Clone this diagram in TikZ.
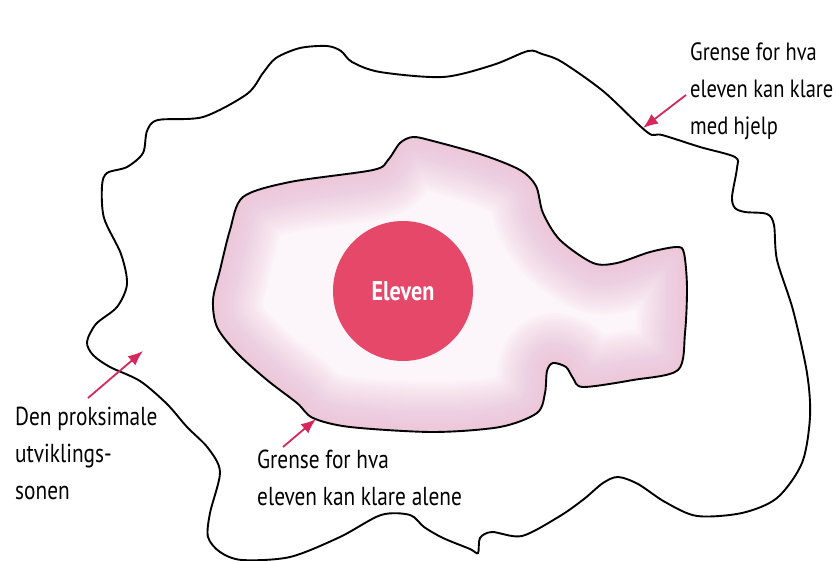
\documentclass[tikz,border=0pt]{standalone}
\usepackage{fontspec}
\setmainfont{PT Sans}[FakeStretch=0.82]
\usetikzlibrary{arrows.meta}
\definecolor{arrowpink}{RGB}{214,40,92}
\definecolor{dotred}{RGB}{230,72,106}
\definecolor{blobedge}{RGB}{236,186,212}
\definecolor{blobmid}{RGB}{252,245,249}
\def\outerpath{plot[smooth cycle, tension=0.5] coordinates {
(102,186) (107,173) (127,167) (143,153) (147,131) (158,120) (203,117) (247,94) (263,73) (276,58) (300,48) (327,46) (341,51) (352,62) (380,72) (443,77) (493,65) (528,51) (542,54) (562,62) (603,91) (640,126) (652,135) (662,135) (700,147) (735,157) (737,168) (732,197) (735,208) (745,212) (767,214) (774,225) (777,260) (793,310) (807,373) (810,417) (802,463) (777,498) (742,513) (697,516) (665,502) (638,484) (618,477) (603,483) (584,499) (560,516) (522,536) (492,532) (480,538) (478,553) (470,549) (443,538) (424,527) (410,515) (381,515) (340,537) (290,557) (242,560) (220,552) (208,537) (210,513) (220,472) (208,448) (187,427) (167,404) (140,381) (110,367) (93,355) (87,342) (96,324) (117,307) (127,284) (121,254) (104,218)}}
\def\innerpath{plot[smooth cycle, tension=0.5] coordinates {
(243,197) (290,182) (373,170) (388,160) (400,143) (413,137) (433,141) (483,155) (520,170) (536,186) (543,213) (560,240) (593,263) (617,263) (650,252) (677,247) (684,253) (687,287) (685,333) (678,370) (633,380) (583,387) (573,378) (566,367) (553,363) (547,371) (545,393) (537,413) (500,427) (433,432) (350,427) (313,418) (297,403) (267,380) (237,353) (217,327) (213,300) (220,270) (230,230)}}
\begin{document}
\begin{tikzpicture}[x=1pt,y=-1pt,
  boundary/.style={draw=black, line width=1.9pt},
  pointer/.style={draw=arrowpink, line width=1.8pt, -{Latex[length=15pt,width=12pt]}},
  lbltext/.style={font=\fontsize{26}{37}\selectfont, align=left, anchor=north west, inner sep=0pt},
]
\useasboundingbox (0,0) rectangle (836,561);
\fill[white] (0,0) rectangle (836,561);
% outer zone
\draw[boundary] \outerpath;
% inner zone with soft pink edge
\begin{scope}
  \clip \innerpath;
  \fill[blobmid] \innerpath;
  \foreach \w in {100,96,...,4} {
    \draw[blobedge, line width=\w pt, opacity=0.045, line join=round] \innerpath;
  }
\end{scope}
\draw[boundary] \innerpath;
% the pupil
\node[circle, fill=dotred, minimum size=140pt, inner sep=0pt, text=white,
      font=\fontsize{27}{30}\selectfont\bfseries] (elev) at (403,291) {Eleven};
% labels
\node[lbltext, font=\fontsize{25}{37}\selectfont] (help) at (690,43) {Grense for hva\\eleven kan klare\\med hjelp};
\node[lbltext] (zone) at (15,407) {Den proksimale\\utviklings-\\sonen};
\node[lbltext] (alone) at (257,450) {Grense for hva\\eleven kan klare alene};
% arrows
\coordinate (s1) at (686,95);  \coordinate (t1) at (643,128);
\coordinate (s2) at (88,398);  \coordinate (t2) at (143,351);
\coordinate (s3) at (283,447); \coordinate (t3) at (316,419);
\draw[pointer] (s1) -- (t1);
\draw[pointer] (s2) -- (t2);
\draw[pointer] (s3) -- (t3);
\end{tikzpicture}
\end{document}
